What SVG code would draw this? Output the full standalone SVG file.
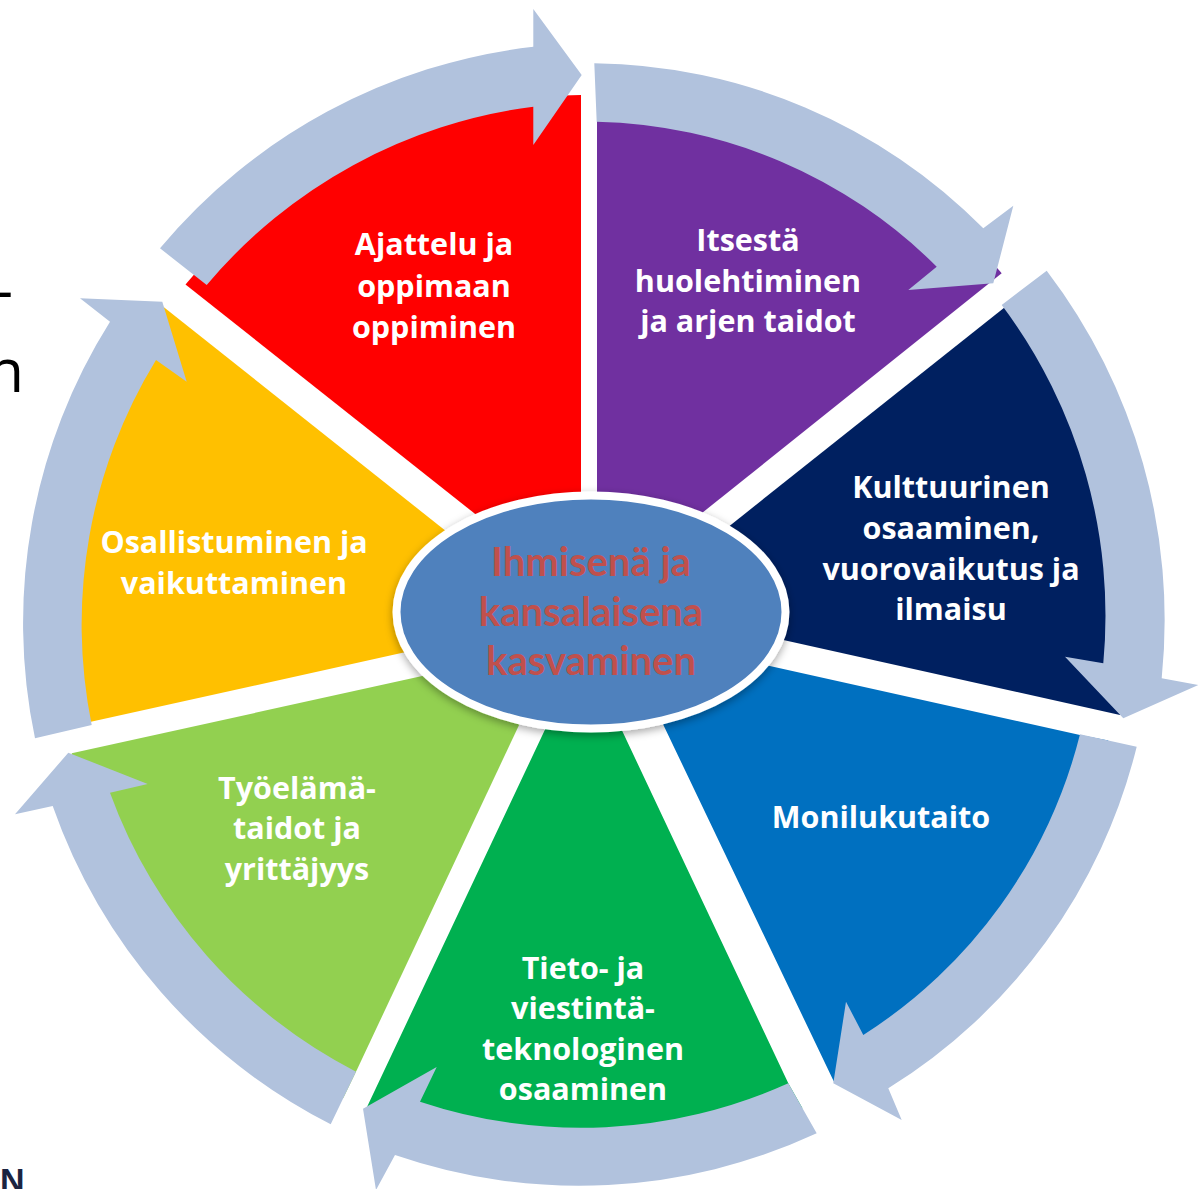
<svg xmlns="http://www.w3.org/2000/svg" width="1203" height="1189" viewBox="0 0 1203 1189">
<defs>
<style>
.arr{fill:#B1C2DD}
.wt{font-family:"Open Sans",Lato,"Liberation Sans",sans-serif;font-weight:bold;font-size:30.5px;fill:#FFFFFF;text-anchor:middle}
.ct{font-family:Lato,"Open Sans","Liberation Sans",sans-serif;font-weight:bold;font-size:40px;fill:#C0504D;text-anchor:middle}
.side{font-family:"Open Sans","Liberation Sans",sans-serif;font-size:60px;fill:#000000}
</style>
<filter id="sh" x="-10%" y="-10%" width="120%" height="130%">
<feDropShadow dx="0" dy="3" stdDeviation="4" flood-color="#000000" flood-opacity="0.35"/>
</filter>
</defs>
<rect width="1203" height="1189" fill="#FFFFFF"/>
<g id="side-text">
<text class="side" x="13" y="311" text-anchor="end">-</text>
<text class="side" x="24" y="392" text-anchor="end">n</text>
<text x="0" y="1192" style="font-family:'Liberation Sans',Arial,sans-serif;font-weight:bold;font-size:34px;fill:#1B2440">N</text>
</g>
<g id="wedges">
<g id="w-ajattelu"><path d="M581,560 L581,95.1 A525,525 0 0 0 185.5,284.5 L520,549.5 Z" fill="#FF0000"/></g>
<g id="w-itsesta"><path d="M597,560 L597,81.1 A539,539 0 0 1 1001.7,273.3 L650,554.6 Z" fill="#7030A0"/></g>
<g id="w-kulttuurinen"><path d="M700,549.4 L1019.3,295.6 A539,539 0 0 1 1120,715 L720,625.9 Z" fill="#002060"/></g>
<g id="w-monilukutaito"><path d="M730,657.1 L1080,735 L1108.3,740.5 A525,525 0 0 1 834.2,1082.3 L641.9,680 Z" fill="#0070C0"/></g>
<g id="w-tieto"><path d="M598.2,680 L788.3,1083.3 L802.5,1108.3 A534,534 0 0 1 367,1107 L568.4,680 Z" fill="#00B050"/></g>
<g id="w-tyoelama"><path d="M535.5,690 L356,1071.7 L343.3,1098 A536,536 0 0 1 71.7,753.3 L470,665.4 Z" fill="#92D050"/></g>
<g id="w-osallistuminen"><path d="M470,637.8 L62.7,728.1 A533,533 0 0 1 163.3,306.7 L500,574 Z" fill="#FFC000"/></g>
</g>
<g id="connectors">
<path class="arr" d="M160,248.3 A572,572 0 0 1 533.3,46.7 L533.3,9 L581.7,75 L533.3,145 L533.3,106.7 A512,512 0 0 0 206.7,285 Z"/>
<path class="arr" d="M594.3,63.3 A556,556 0 0 1 983.3,228.3 L1013.3,205.7 L993.3,283.3 L908.3,290 L936.7,266.7 A497,497 0 0 0 596.7,121.7 Z"/>
<path class="arr" d="M1046.7,270.7 A576,576 0 0 1 1161.7,678.3 L1198.3,685 L1123.3,718.3 L1065,656.7 L1103.3,663.3 A517,517 0 0 0 1001.7,305 Z"/>
<path class="arr" d="M1136.7,746.7 A559,559 0 0 1 888.3,1088.3 L901.7,1120 L833.3,1083.3 L846,1001.7 L863.3,1035 A501,501 0 0 0 1080,734.3 Z"/>
<path class="arr" d="M816.7,1133.3 A565,565 0 0 1 395,1155 L376,1190 L363,1108.7 L436.7,1067 L420,1101.7 A507,507 0 0 0 788.3,1083.3 Z"/>
<path class="arr" d="M330.7,1124.3 A567,567 0 0 1 52.7,806 L15,814.3 L68.3,752.7 L147.7,784 L110,792.7 A509,509 0 0 0 356,1071.7 Z"/>
<path class="arr" d="M35,738.3 A565,565 0 0 1 110,321.7 L80,298.3 L162.3,301.7 L186.7,381.7 L156,360 A507,507 0 0 0 91.7,725 Z"/>
</g>
<g id="center">
<ellipse cx="591" cy="612" rx="194.5" ry="116.5" fill="#4F81BD" stroke="#FFFFFF" stroke-width="8" filter="url(#sh)"/>
<text class="ct" x="591" y="576">Ihmisenä ja</text>
<text class="ct" x="591" y="625.5">kansalaisena</text>
<text class="ct" x="591" y="675">kasvaminen</text>
</g>
<g id="labels">
<g id="t-ajattelu"><text class="wt" x="434" y="255">Ajattelu ja</text><text class="wt" x="434" y="296.5">oppimaan</text><text class="wt" x="434" y="337.5">oppiminen</text></g>
<g id="t-itsesta"><text class="wt" x="748" y="251">Itsestä</text><text class="wt" x="748" y="292">huolehtiminen</text><text class="wt" x="748" y="332">ja arjen taidot</text></g>
<g id="t-kulttuurinen"><text class="wt" x="951" y="498">Kulttuurinen</text><text class="wt" x="951" y="538.5">osaaminen,</text><text class="wt" x="951" y="580">vuorovaikutus ja</text><text class="wt" x="951" y="620">ilmaisu</text></g>
<g id="t-monilukutaito"><text class="wt" x="881" y="828">Monilukutaito</text></g>
<g id="t-tieto"><text class="wt" x="583" y="978.5">Tieto- ja</text><text class="wt" x="583" y="1019">viestintä-</text><text class="wt" x="583" y="1060">teknologinen</text><text class="wt" x="583" y="1100">osaaminen</text></g>
<g id="t-tyoelama"><text class="wt" x="297" y="798.5">Työelämä-</text><text class="wt" x="297" y="838.5">taidot ja</text><text class="wt" x="297" y="880">yrittäjyys</text></g>
<g id="t-osallistuminen"><text class="wt" x="234" y="552.5">Osallistuminen ja</text><text class="wt" x="234" y="593.5">vaikuttaminen</text></g>
</g>
</svg>
